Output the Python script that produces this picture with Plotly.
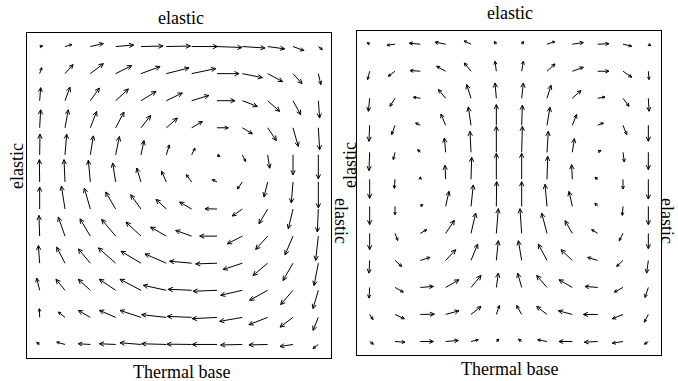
import math
import plotly.graph_objects as go

# ---------------- data (rows listed from top to bottom, 12 columns left->right) -------------
LEFT_U = [
    [3, 7, 13, 18, 22, 24, 25.7, 25, 22.7, 17, 11, 4],
    [2, 8, 13, 16, 19, 22.7, 24, 22, 20, 15, 9, 2.5],
    [1, 5, 9, 12.7, 15, 16, 17.3, 18, 15, 12, 7.7, 1.3],
    [1, 3.3, 6.3, 8.3, 9.7, 11, 10.7, 11.3, 10, 8.7, 5.3, 1.3],
    [0.3, 1.7, 3, 3.7, 3, 3, 3.3, 3, 3.3, 2, 0, 0],
    [-0.3, -1, -2, -3, -4.3, -4.7, -5.3, -4.7, -5, -3.7, -1.7, 0],
    [0, -3.6, -6, -10, -10.3, -10.3, -12, -12, -10, -8.7, -4.7, -1],
    [-0.7, -6.7, -10.3, -14, -15, -15.7, -16, -17.3, -15, -12, -8, -2.7],
    [-1.3, -8.3, -12, -17.3, -20, -21.3, -22, -21.3, -19.3, -14.7, -10, -4.3],
    [-3, -9, -12, -16.3, -21, -23, -23.3, -24, -21.7, -18, -12.3, -5.3],
    [-0.3, -6.7, -12, -16.3, -21, -24.7, -24.3, -24.7, -22.7, -18.7, -13, -5.3],
    [-3, -8.3, -12, -16.3, -21, -24.7, -24.7, -24.7, -21.7, -18.7, -13, -5.3],
]
LEFT_V = [
    [0.5, 2, 3, 1.5, 0.5, 0.5, 0, -1, -1.5, -2.3, -4, -3],
    [6, 9, 10, 8, 7, 5.7, 5, 0, -4, -8, -10, -11],
    [13, 13.5, 12.7, 11.7, 9.3, 7.7, 5.3, 0, -5.7, -10.7, -14, -17.3],
    [18, 18, 16.3, 15.7, 12.3, 9.7, 6.3, 0, -6, -12.7, -18.7, -22],
    [20.7, 20.7, 19, 18.3, 14.3, 10, 6.7, -1.5, -6.7, -13.3, -20, -24],
    [22.3, 22.3, 21.7, 19, 14, 10.7, 7.3, 2.3, -7, -15, -21, -26],
    [22, 23, 21, 17, 14.3, 9.7, 7, 0.3, -7, -14.7, -19.7, -23],
    [20.7, 19, 17.3, 16.7, 14, 9, 5.7, 0, -7.7, -13.3, -18.7, -24.3],
    [17.7, 16, 14.3, 15.3, 12, 9.3, 2, -0.7, -6.3, -12.3, -17.3, -22.3],
    [12.3, 11, 11, 11, 11, 5, 1, -1, -5, -10, -14.3, -18.3],
    [8.7, 5.3, 7, 7, 7, 2.7, 1, -1.3, -4, -7.3, -9.7, -13],
    [2, 2.3, 0.7, 0.7, 1.7, 0.7, 0.3, 0, -0.5, -0.5, -2, -4],
]
RIGHT_U = [
    [-2.5, -8, -11, -10.7, -7, -2, 2, 8, 11, 11.3, 8.7, 2.5],
    [-2, -6.7, -10.3, -9, -6.7, -1.3, 1.7, 8, 11, 11.3, 8.7, 0.7],
    [-1.3, -5, -7, -7.3, -4.3, -1.3, 1.7, 4, 8.7, 7.3, 6, 0.7],
    [-0.7, -3.3, -4.7, -4.7, -2.7, 0, 0.7, 3, 4.3, 5.7, 3.7, 0],
    [-0.7, -1.7, -2.7, -1.3, -1, 0, 0.7, 1.3, 2, 3.3, 1.3, 0],
    [0, -0.7, 0, -0.7, 0.7, 0, 0, 0.7, -0.7, -2.7, 0, 0],
    [0, 0, 2.5, 3.3, 2.3, 0.3, 0, -2, -3.3, -2.7, -0.7, 0],
    [0, 2.7, 6.3, 8.7, 4.7, 2, -1.7, -5.3, -7.3, -6, -3.7, 0],
    [-0.7, 6.7, 9.7, 10, 6.7, 2, -3.3, -8.7, -11.3, -10, -6.3, -1.7],
    [-0.7, 8.3, 13, 13.3, 10, 2, -4, -10.3, -13.3, -12.7, -8.7, -3.3],
    [3.3, 9.3, 14, 13.3, 10, 3, -5, -10.3, -14, -14.3, -10.7, -4],
    [3.7, 10, 13, 12.7, 7.3, 2.7, -3.3, -9.3, -13.3, -13.3, -10.7, -4],
]
RIGHT_V = [
    [1.5, -1, 1, 2, 3.3, 2.7, 2.7, 2.7, 1.7, 0.5, -2, -1.5],
    [-8.3, -5, 0.7, 5, 8.3, 10, 10, 7.3, 4, 0, -6, -8.3],
    [-13, -8, 1, 8.7, 13.7, 15.3, 15.3, 13, 7.7, 1.3, -8, -13],
    [-16, -9.3, 2.3, 11.3, 18.3, 20.7, 20, 18, 10.7, 2.3, -9.3, -16],
    [-18.3, -7.3, 2.7, 14.3, 21, 26, 26, 21, 13.7, 2, -9.7, -17.3],
    [-19, -9, 2.5, 14, 22, 26, 26, 23, 14.7, 2, -9.7, -19.7],
    [-18.3, -8.3, 2, 15, 21.4, 24.7, 24.7, 22, 15, 3.3, -9, -18.3],
    [-16.3, -7, 3.7, 13, 20.3, 24.7, 24.7, 20.3, 12.7, 3.7, -7.3, -15.3],
    [-12.7, -6, 3, 10.7, 16.3, 19.7, 19.7, 16.3, 10.7, 3, -6, -12.7],
    [-10.7, -4.7, 1, 7.7, 12, 14.3, 14.3, 12, 7.7, 1, -4.7, -10],
    [-5, -4.3, 0.3, 3.7, 8, 9, 9, 8, 3.7, 0, -4.3, -7.7],
    [-2.7, -0.7, 0, 1, 1.7, 2.3, 2.3, 1.7, 0, -0.7, -1.7, -2.7],
]

TOP_LABEL = "elastic"
SIDE_LABEL = "elastic"
BOTTOM_LABEL = "Thermal base"

# ---------------- layout geometry ----------------
W, H = 678, 381
NG = 12
L_BOX = (27, 331, 33, 358)      # x0, x1, y0(top), y1(bottom) in px
R_BOX = (357, 661, 30.7, 355)


def dom(box):
    x0, x1, y0, y1 = box
    return [x0 / W, x1 / W], [1 - y1 / H, 1 - y0 / H]


def quiver(U, V, box):
    x0, x1, y0, y1 = box
    kx = (x1 - x0) / NG
    ky = (y1 - y0) / NG
    xs, ys = [], []
    n = len(U)
    for r in range(n):
        for c in range(len(U[r])):
            u, v = U[r][c], V[r][c]
            L = math.hypot(u, v)
            if L == 0:
                continue
            gx, gy = c + 0.5, n - r - 0.5
            X0, Y0 = gx * kx, gy * ky
            X1, Y1 = X0 + u, Y0 + v
            h = min(max(0.35 * L, 3.0), 5.0)
            ang = math.atan2(v, u)
            b = []
            for s in (1, -1):
                a = ang + math.pi - s * 0.45
                b.append((X1 + h * math.cos(a), Y1 + h * math.sin(a)))
            xs += [X0 / kx, X1 / kx, None, b[0][0] / kx, X1 / kx, b[1][0] / kx, None]
            ys += [Y0 / ky, Y1 / ky, None, b[0][1] / ky, Y1 / ky, b[1][1] / ky, None]
    return xs, ys


fig = go.Figure()
for i, (U, V, box) in enumerate([(LEFT_U, LEFT_V, L_BOX), (RIGHT_U, RIGHT_V, R_BOX)]):
    xs, ys = quiver(U, V, box)
    ax = "" if i == 0 else "2"
    fig.add_trace(go.Scatter(x=xs, y=ys, mode="lines", xaxis="x" + ax, yaxis="y" + ax,
                             line=dict(color="black", width=1), hoverinfo="skip",
                             showlegend=False))

axis_style = dict(range=[0, NG], showgrid=False, zeroline=False, showticklabels=False,
                  ticks="", showline=True, mirror=True, linecolor="black", linewidth=1,
                  fixedrange=True)
lxd, lyd = dom(L_BOX)
rxd, ryd = dom(R_BOX)
fig.update_layout(
    width=W, height=H, margin=dict(l=0, r=0, t=0, b=0),
    paper_bgcolor="white", plot_bgcolor="white", showlegend=False,
    xaxis=dict(domain=lxd, anchor="y", **axis_style),
    yaxis=dict(domain=lyd, anchor="x", **axis_style),
    xaxis2=dict(domain=rxd, anchor="y2", **axis_style),
    yaxis2=dict(domain=ryd, anchor="x2", **axis_style),
)

font = dict(family="Liberation Serif, Times New Roman, serif", size=18, color="black")
labels = [
    (TOP_LABEL, 181, 18, 0), (BOTTOM_LABEL, 181, 372, 0),
    (SIDE_LABEL, 17, 166, -90), (SIDE_LABEL, 341, 221, 90),
    (TOP_LABEL, 510, 13, 0), (BOTTOM_LABEL, 510, 369, 0),
    (SIDE_LABEL, 350, 165, -90), (SIDE_LABEL, 667, 221, 90),
]
for text, px, py, rot in labels:
    fig.add_annotation(text=text, x=px / W, y=1 - py / H, xref="paper", yref="paper",
                       showarrow=False, textangle=rot, xanchor="center", yanchor="middle",
                       font=font)

fig.write_html("out.html")
